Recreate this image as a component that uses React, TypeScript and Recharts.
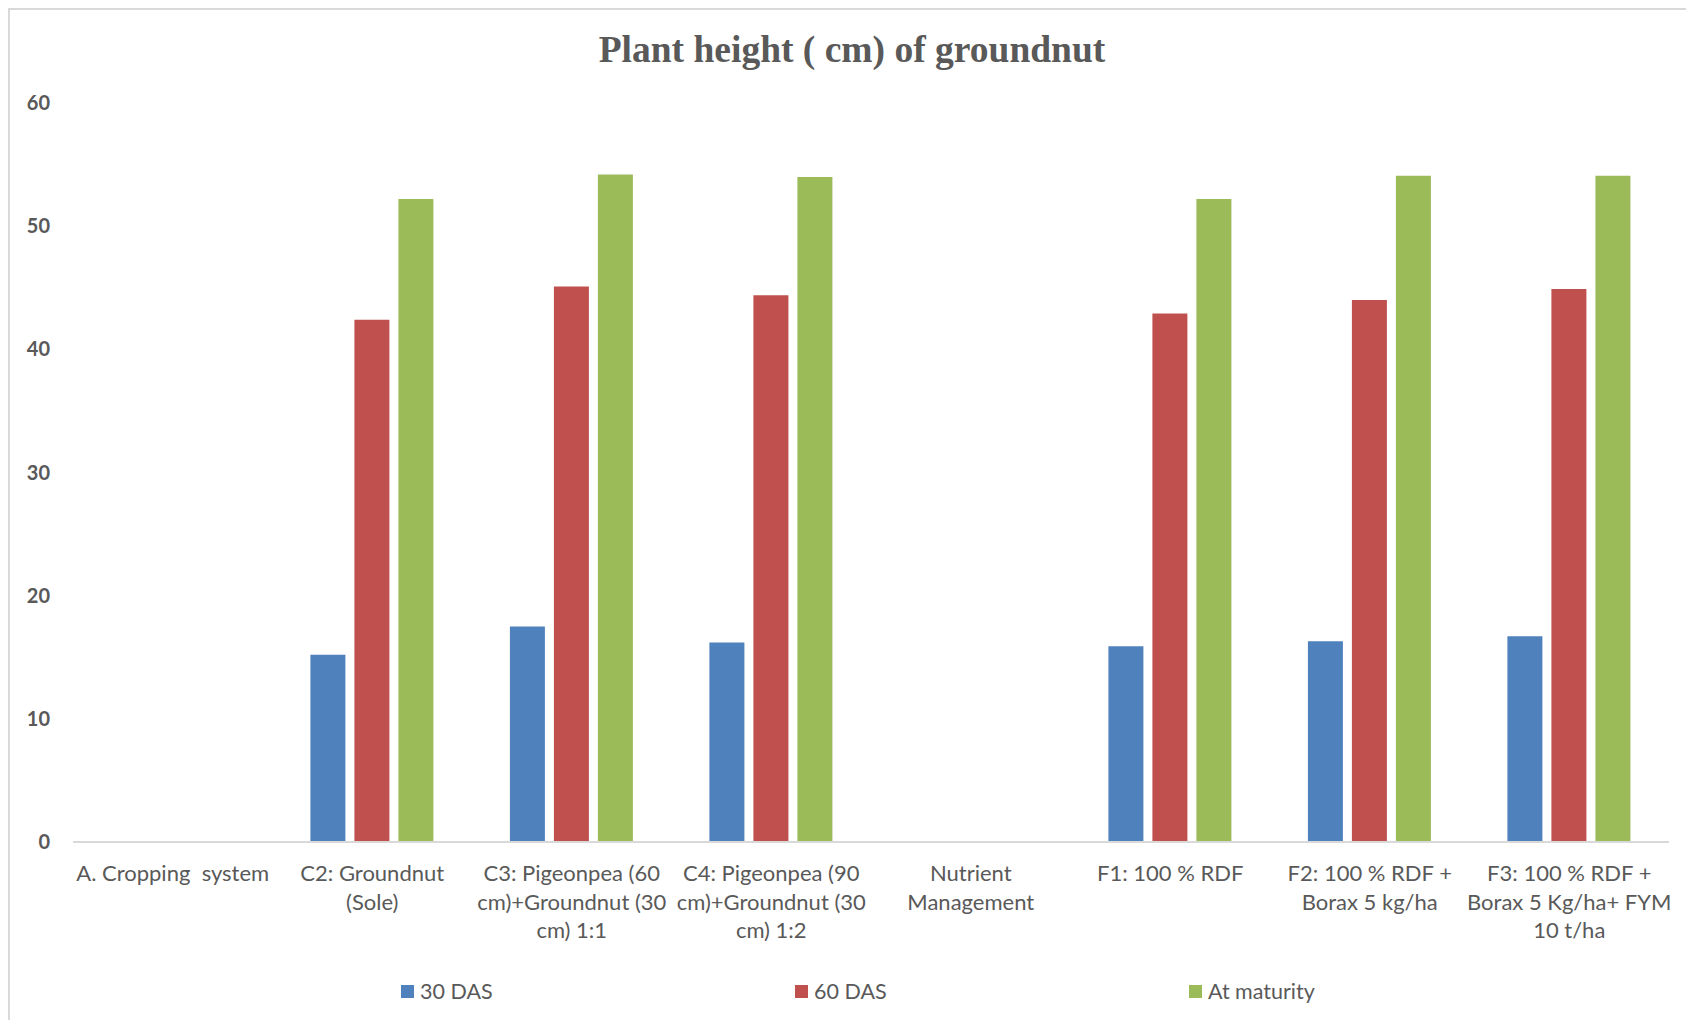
import { Bar, BarChart, Legend, XAxis, YAxis } from "recharts";

const categories = [
  "A. Cropping  system",
  "C2: Groundnut\n(Sole)",
  "C3: Pigeonpea (60\ncm)+Groundnut (30\ncm) 1:1",
  "C4: Pigeonpea (90\ncm)+Groundnut (30\ncm) 1:2",
  "Nutrient\nManagement",
  "F1: 100 % RDF",
  "F2: 100 % RDF +\nBorax 5 kg/ha",
  "F3: 100 % RDF +\nBorax 5 Kg/ha+ FYM\n10 t/ha",
];
const das30 = [null, 15.2, 17.5, 16.2, null, 15.9, 16.3, 16.7];
const das60 = [null, 42.4, 45.1, 44.4, null, 42.9, 44.0, 44.9];
const atMaturity = [null, 52.2, 54.2, 54.0, null, 52.2, 54.1, 54.1];
const yTicks = [0, 10, 20, 30, 40, 50, 60];

const data = categories.map((name, i) => ({
  name,
  d30: das30[i],
  d60: das60[i],
  mat: atMaturity[i],
}));

const series = [
  { key: "d30", label: "30 DAS", color: "#4F81BD" },
  { key: "d60", label: "60 DAS", color: "#C0504D" },
  { key: "mat", label: "At maturity", color: "#9BBB59" },
];

const TEXT = "#595959";
const FONT = "Lato, 'Open Sans', sans-serif";

function CategoryTick({ x, y, payload }: any) {
  const lines = String(payload.value).split("\n");
  return (
    <text x={x} y={y} textAnchor="middle" fill={TEXT} fontFamily={FONT} fontSize={22} style={{ whiteSpace: "pre" }}>
      {lines.map((l, i) => (
        <tspan key={i} x={x} dy={i === 0 ? 31 : 28.6}>
          {l}
        </tspan>
      ))}
    </text>
  );
}

function LegendRow() {
  return (
    <div style={{ display: "flex", marginLeft: 391, fontFamily: FONT, fontSize: 21.5, color: TEXT }}>
      {series.map((s) => (
        <div key={s.key} style={{ width: 394, display: "flex", alignItems: "center" }}>
          <span style={{ width: 13, height: 13, background: s.color, marginRight: 6 }} />
          <span>{s.label}</span>
        </div>
      ))}
    </div>
  );
}

export default function App() {
  return (
    <div
      style={{
        position: "relative",
        width: 1684,
        height: 1010,
        borderLeft: "2px solid #d9d9d9",
        borderTop: "2px solid #d9d9d9",
        background: "#fff",
      }}
    >
      <div
        style={{
          position: "absolute",
          top: 18,
          left: 0,
          width: 1684,
          textAlign: "center",
          fontFamily: "'Liberation Serif', 'Times New Roman', serif",
          fontWeight: "bold",
          fontSize: 37.5,
          color: TEXT,
        }}
      >
        Plant height ( cm) of groundnut
      </div>
      <BarChart
        width={1684}
        height={1010}
        data={data}
        margin={{ top: 93, right: 25, left: 0, bottom: 32 }}
        barCategoryGap="19%"
        barGap={9}
      >
        <XAxis
          dataKey="name"
          interval={0}
          tick={<CategoryTick />}
          tickLine={false}
          axisLine={{ stroke: "#d9d9d9", strokeWidth: 2 }}
          height={120}
        />
        <YAxis
          domain={[0, 60]}
          ticks={yTicks}
          width={63}
          axisLine={false}
          tickLine={false}
          tickSize={0}
          tickMargin={23}
          tick={{ fill: TEXT, fontSize: 20, fontWeight: "bold", fontFamily: FONT }}
        />
        <Legend
          verticalAlign="bottom"
          content={() => <LegendRow />}
          wrapperStyle={{ position: "absolute", left: 0, top: 968, width: 1684 }}
        />
        {series.map((s) => (
          <Bar key={s.key} dataKey={s.key} name={s.label} fill={s.color} isAnimationActive={false} />
        ))}
      </BarChart>
    </div>
  );
}
